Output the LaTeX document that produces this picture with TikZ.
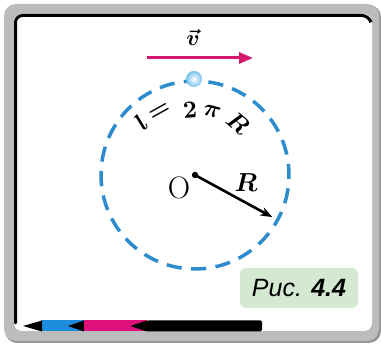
\documentclass[tikz,border=0pt]{standalone}
\usepackage{fontspec}
\newfontfamily\capfont{Liberation Sans}
\usetikzlibrary{arrows.meta,calc}
\definecolor{dashblue}{RGB}{45,140,205}
\definecolor{vmag}{RGB}{210,25,110}
\definecolor{framegray}{RGB}{188,188,188}
\definecolor{framedark}{RGB}{150,150,150}
\definecolor{capgreen}{RGB}{212,232,210}
\definecolor{pblue}{RGB}{30,140,220}
\definecolor{pmag}{RGB}{222,16,122}
\definecolor{ballblue}{RGB}{120,195,235}
\newcommand{\arcm}[1]{\scalebox{2.45}{\boldmath$#1$}}
\tikzset{
  arctxt/.style={inner sep=0pt},
}
\begin{document}
\begin{tikzpicture}[x=1pt,y=1pt]
\useasboundingbox (0,0) rectangle (381,344);
% frame
\fill[framedark, rounded corners=12] (5,1) rectangle (381,339);
\fill[framegray, rounded corners=12] (4,3) rectangle (379,340);
\fill[white, rounded corners=8] (14,13) rectangle (372,330);
\draw[black, line width=3, line cap=round, rounded corners=7] (15.5,21) -- (15.5,328.5) -- (369,328.5) -- (370.5,323);
% circle
\coordinate (O) at (195,169);
\draw[dashblue, line width=3.5, dash pattern=on 15.2pt off 9.41pt, dash phase=4pt] (O) circle[radius=94];
% ball
\node[circle, inner sep=0pt, minimum size=16, inner color=white, outer color=ballblue] (ball) at (194,265) {};
% velocity
\coordinate (vs) at (147,286);
\coordinate (ve) at (253,286);
\draw[vmag, line width=3, -{Triangle[length=14,width=11]}] (vs) -- (ve);
\node[inner sep=0pt] (vlab) at (193,306) {\scalebox{2.2}{\boldmath$\vec{v}$}};
% radius
\coordinate (Rtip) at ($(O)+(-28.6:88)$);
\fill (O) circle (3.2);
\draw[line width=2.6, -{Stealth[length=12,width=9]}] (O) -- (Rtip);
\node[inner sep=0pt, font=\fontsize{31}{33}\selectfont] (Olab) at (179,156) {O};
\node[inner sep=0pt] (Rlab) at (246,161) {\scalebox{2.6}{\boldmath$R$}};
% arc text
\node[arctxt, rotate=45.5] (t1) at (141,222) {\arcm{l}};
\node[arctxt, rotate=29] (t2) at (160,232) {\arcm{=}};
\node[arctxt, rotate=4.4] (t3) at (190,234) {\arcm{2}};
\node[arctxt, rotate=-15] (t4) at (212,232) {\arcm{\pi}};
\node[arctxt, rotate=-39.6] (t5) at (238,221) {\arcm{R}};
% caption
\node[fill=capgreen, rounded corners=6, minimum width=118, minimum height=40, inner sep=0pt,
      font=\capfont\fontsize{25}{28}\selectfont\itshape] (cap) at (299,56) {Рис. \textbf{4.4}};
% pencil
\fill[pblue] (41,12.5) rectangle (84,23.5);
\fill[black] (23,18) -- (42,23.5) -- (42,12.5) -- cycle;
\fill[black] (68,18) -- (84,23.5) -- (84,12.5) -- cycle;
\fill[pmag] (84,12.5) rectangle (147,23.5);
\fill[black, rounded corners=1.5] (130,18) -- (147,23.5) -- (262,23.5) -- (262,12.5) -- (147,12.5) -- cycle;
\end{tikzpicture}
\end{document}
